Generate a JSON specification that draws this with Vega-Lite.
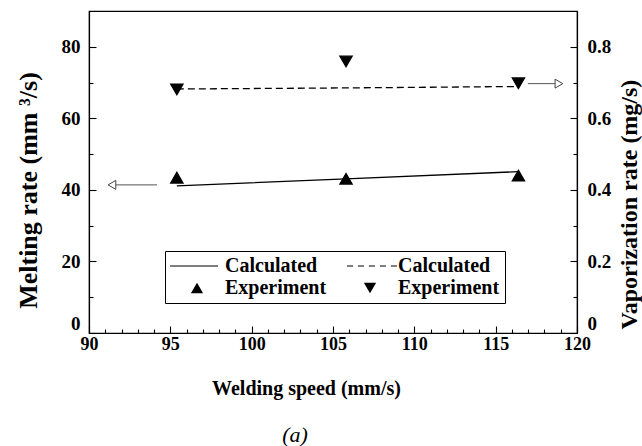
{
  "$schema": "https://vega.github.io/schema/vega-lite/v6.json",
  "width": 488,
  "height": 322,
  "autosize": {"type": "none"},
  "padding": {"left": 89, "top": 11, "right": 65, "bottom": 113},
  "background": "white",
  "config": {
    "view": {"stroke": "black", "strokeWidth": 1.2},
    "font": "Liberation Serif",
    "axis": {"grid": false, "domainColor": "black", "domainWidth": 1.2, "tickColor": "black", "tickWidth": 1.1, "labelColor": "black", "titleColor": "black", "labelFont": "Liberation Serif", "titleFont": "Liberation Serif", "labelFontWeight": "bold", "titleFontWeight": "bold"}
  },
  "title": {"text": "(a)", "orient": "bottom", "anchor": "middle", "dx": -38, "offset": 27, "font": "Liberation Serif", "fontStyle": "italic", "fontWeight": "normal", "fontSize": 22, "color": "black"},
  "datasets": {
    "calcMelt": [{"speed": 95.4, "rate": 41.1}, {"speed": 105.8, "rate": 43.1}, {"speed": 116.4, "rate": 45.1}],
    "expMelt": [{"speed": 95.4, "rate": 43.4, "series": "exp_m"}, {"speed": 105.8, "rate": 43.1, "series": "exp_m"}, {"speed": 116.4, "rate": 44.0, "series": "exp_m"}],
    "calcVap": [{"speed": 95.4, "rate": 0.682}, {"speed": 105.8, "rate": 0.685}, {"speed": 116.4, "rate": 0.689}],
    "expVap": [{"speed": 95.4, "rate": 0.681, "series": "exp_v"}, {"speed": 105.8, "rate": 0.759, "series": "exp_v"}, {"speed": 116.4, "rate": 0.698, "series": "exp_v"}],
    "arrowMelt": [{"from": 94.18, "to": 91.66, "head": 91.41, "rate": 41.4}],
    "arrowVap": [{"from": 116.98, "to": 118.64, "head": 118.89, "rate": 0.697}]
  },
  "layer": [
    {
      "layer": [
        {
          "data": {"name": "calcMelt"},
          "mark": {"type": "line", "color": "black", "strokeWidth": 1.3},
          "encoding": {
            "x": {"field": "speed", "type": "quantitative", "scale": {"domain": [90, 120], "nice": false, "zero": false},
              "axis": {"orient": "bottom", "values": [90, 95, 100, 105, 110, 115, 120], "tickSize": -7, "labelPadding": 9, "labelFontSize": 18, "labelFlush": false, "labelOverlap": false,
                "title": "Welding speed (mm/s)", "titleFontSize": 20, "titleX": 217, "titleY": 61, "titleBaseline": "alphabetic", "titleAnchor": "middle", "titleAlign": "center"}},
            "y": {"field": "rate", "type": "quantitative", "scale": {"domain": [0, 90], "nice": false, "zero": true},
              "axis": {"orient": "left", "values": [0, 20, 40, 60, 80], "tickSize": -7, "labelPadding": 16, "labelFontSize": 19, "labelFlush": false, "labelOverlap": false,
                "labelBaseline": {"condition": {"test": "datum.value == 0", "value": "bottom"}, "value": "middle"},
                "title": "Melting rate (mm ³/s)", "titleFontSize": 26, "titleAngle": -90, "titleX": -61, "titleY": 179, "titleBaseline": "middle", "titleAlign": "center"}}
          }
        },
        {
          "data": {"name": "expMelt"},
          "mark": {"type": "point", "filled": true, "fill": "black", "stroke": "black", "strokeWidth": 1.3, "opacity": 1, "size": 150},
          "encoding": {
            "x": {"field": "speed", "type": "quantitative", "axis": null},
            "y": {"field": "rate", "type": "quantitative", "axis": null},
            "shape": {"field": "series", "type": "nominal",
              "scale": {"domain": ["calc_m", "calc_v", "exp_m", "exp_v"], "range": ["M-4.4,-0.08L3.43,-0.08L3.43,0.08L-4.4,0.08Z", "M-3.76,-0.08L-2.76,-0.08L-2.76,0.08L-3.76,0.08ZM-1.97,-0.08L-0.97,-0.08L-0.97,0.08L-1.97,0.08ZM-0.18,-0.08L0.82,-0.08L0.82,0.08L-0.18,0.08ZM1.61,-0.08L2.61,-0.08L2.61,0.08L1.61,0.08ZM3.4,-0.08L4.4,-0.08L4.4,0.08L3.4,0.08Z", "triangle-up", "triangle-down"]},
              "legend": {"orient": "none", "legendX": 76, "legendY": 240, "title": null, "columns": 2, "direction": "horizontal",
                "labelExpr": "indexof(datum.value, 'calc') >= 0 ? 'Calculated' : 'Experiment'",
                "labelFont": "Liberation Serif", "labelFontWeight": "bold", "labelFontSize": 20, "labelColor": "black", "labelLimit": 300,
                "symbolSize": 150, "symbolOffset": 17, "labelOffset": 18, "columnPadding": 16, "rowPadding": 2, "padding": 5,
                "symbolStrokeColor": "black", "symbolStrokeWidth": 0.6, "symbolFillColor": "black", "symbolOpacity": 1,
                "strokeColor": "black", "fillColor": "white",
                "encode": {"symbols": {"stroke": {"value": "black"}, "strokeWidth": {"value": 0.6}, "fill": {"value": "black"}, "opacity": {"value": 1}}}}}
          }
        },
        {
          "data": {"name": "arrowMelt"},
          "mark": {"type": "rule", "color": "#555", "strokeWidth": 1},
          "encoding": {
            "x": {"field": "from", "type": "quantitative", "axis": {"orient": "bottom", "values": [91, 92, 93, 94, 96, 97, 98, 99, 101, 102, 103, 104, 106, 107, 108, 109, 111, 112, 113, 114, 116, 117, 118, 119], "tickSize": -4, "labels": false, "domain": false, "title": null}},
            "x2": {"field": "to"},
            "y": {"field": "rate", "type": "quantitative", "axis": {"orient": "left", "values": [10, 30, 50, 70], "tickSize": -4, "labels": false, "domain": false, "title": null}}
          }
        },
        {
          "data": {"name": "arrowMelt"},
          "mark": {"type": "point", "shape": "triangle-left", "filled": true, "fill": "white", "stroke": "#444", "strokeWidth": 1, "opacity": 1, "size": 80},
          "encoding": {
            "x": {"field": "head", "type": "quantitative", "axis": null},
            "y": {"field": "rate", "type": "quantitative", "axis": null}
          }
        }
      ],
      "resolve": {"axis": {"x": "independent", "y": "independent"}}
    },
    {
      "layer": [
        {
          "data": {"name": "calcVap"},
          "mark": {"type": "line", "color": "black", "strokeWidth": 1.3, "strokeDash": [7, 4]},
          "encoding": {
            "x": {"field": "speed", "type": "quantitative", "axis": null},
            "y": {"field": "rate", "type": "quantitative", "scale": {"domain": [0, 0.9], "nice": false, "zero": true},
              "axis": {"orient": "right", "values": [0, 0.2, 0.4, 0.6, 0.8], "tickSize": -7, "labelPadding": 17, "labelFontSize": 19, "labelFlush": false, "labelOverlap": false,
                "labelBaseline": {"condition": {"test": "datum.value == 0", "value": "bottom"}, "value": "middle"},
                "labelExpr": "datum.value == 0 ? '0' : format(datum.value, '.1f')",
                "title": "Vaporization rate (mg/s)", "titleFontSize": 24, "titleAngle": -90, "titleX": 52, "titleY": 193, "titleBaseline": "middle", "titleAlign": "center"}}
          }
        },
        {
          "data": {"name": "expVap"},
          "mark": {"type": "point", "filled": true, "fill": "black", "stroke": "black", "strokeWidth": 1.3, "opacity": 1, "size": 150},
          "encoding": {
            "x": {"field": "speed", "type": "quantitative", "axis": null},
            "y": {"field": "rate", "type": "quantitative", "axis": null},
            "shape": {"field": "series", "type": "nominal",
              "scale": {"domain": ["calc_m", "calc_v", "exp_m", "exp_v"], "range": ["M-4.4,-0.08L3.43,-0.08L3.43,0.08L-4.4,0.08Z", "M-3.76,-0.08L-2.76,-0.08L-2.76,0.08L-3.76,0.08ZM-1.97,-0.08L-0.97,-0.08L-0.97,0.08L-1.97,0.08ZM-0.18,-0.08L0.82,-0.08L0.82,0.08L-0.18,0.08ZM1.61,-0.08L2.61,-0.08L2.61,0.08L1.61,0.08ZM3.4,-0.08L4.4,-0.08L4.4,0.08L3.4,0.08Z", "triangle-up", "triangle-down"]}}
          }
        },
        {
          "data": {"name": "arrowVap"},
          "mark": {"type": "rule", "color": "#555", "strokeWidth": 1},
          "encoding": {
            "x": {"field": "from", "type": "quantitative", "axis": null},
            "x2": {"field": "to"},
            "y": {"field": "rate", "type": "quantitative", "axis": {"orient": "right", "values": [0.1, 0.3, 0.5, 0.7], "tickSize": -4, "labels": false, "domain": false, "title": null}}
          }
        },
        {
          "data": {"name": "arrowVap"},
          "mark": {"type": "point", "shape": "triangle-right", "filled": true, "fill": "white", "stroke": "#444", "strokeWidth": 1, "opacity": 1, "size": 80},
          "encoding": {
            "x": {"field": "head", "type": "quantitative", "axis": null},
            "y": {"field": "rate", "type": "quantitative", "axis": null}
          }
        }
      ],
      "resolve": {"axis": {"y": "independent"}}
    }
  ],
  "resolve": {"scale": {"y": "independent"}, "axis": {"x": "independent", "y": "independent"}}
}
